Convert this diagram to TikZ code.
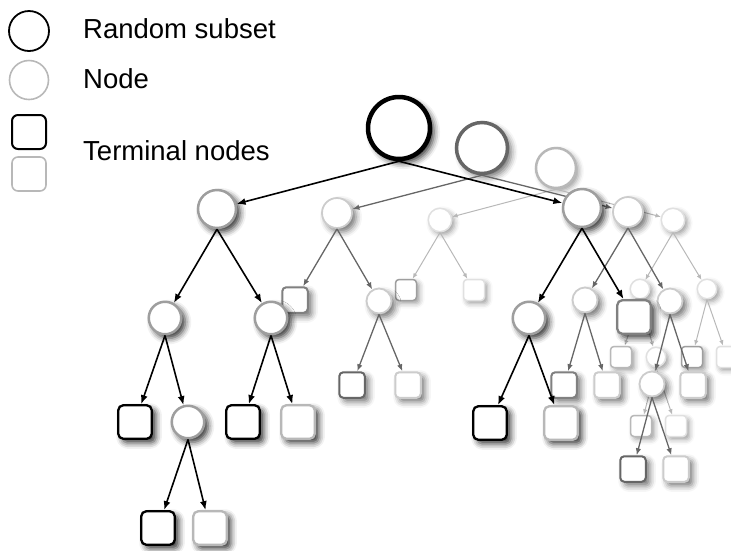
\documentclass[tikz,border=0pt]{standalone}
\usepackage{fontspec}
\setmainfont{Liberation Sans}
\usetikzlibrary{arrows.meta,shadows.blur}

\definecolor{gA}{gray}{0.40}
\definecolor{gB}{gray}{0.50}
\definecolor{gC}{gray}{0.62}
\definecolor{gD}{gray}{0.72}
\definecolor{gE}{gray}{0.80}
\definecolor{gF}{gray}{0.88}

\tikzset{
  % shadows for the three trees
  dkshadow/.style={blur shadow={shadow xshift=4pt, shadow yshift=-4pt, shadow blur radius=6pt, shadow opacity=80}},
  mdshadow/.style={blur shadow={shadow xshift=4pt, shadow yshift=-4pt, shadow blur radius=6pt, shadow opacity=55}},
  ltshadow/.style={blur shadow={shadow xshift=3pt, shadow yshift=-3pt, shadow blur radius=5pt, shadow opacity=38}},
  % node shapes
  rnd/.style={circle, fill=white, inner sep=0pt},
  box/.style={rectangle, fill=white, inner sep=0pt},
  % front tree
  dkroot/.style={rnd, draw=black, line width=4.5pt, minimum size=62pt, dkshadow},
  dkcA/.style={rnd, draw=gC, line width=2.5pt, minimum size=38pt, dkshadow},
  dkcB/.style={rnd, draw=gC, line width=2.5pt, minimum size=32.5pt, dkshadow},
  dkbox/.style={box, line width=2.3pt, minimum size=33.5pt, rounded corners=5pt, dkshadow},
  % middle tree
  mdroot/.style={rnd, draw=gA, line width=3.5pt, minimum size=51pt, mdshadow},
  mdcA/.style={rnd, draw=gE, line width=1.8pt, minimum size=30pt, mdshadow},
  mdcB/.style={rnd, draw=gE, line width=1.8pt, minimum size=25pt, mdshadow},
  mdbox/.style={box, line width=2pt, minimum size=25.5pt, rounded corners=4pt, mdshadow},
  % back tree
  ltroot/.style={rnd, draw=gD, line width=2.5pt, minimum size=40pt, ltshadow},
  ltcA/.style={rnd, draw=gF, line width=1.5pt, minimum size=23.5pt, ltshadow},
  ltcB/.style={rnd, draw=gF, line width=1.5pt, minimum size=19.5pt, ltshadow},
  ltbox/.style={box, line width=1.5pt, minimum size=21pt, rounded corners=3.5pt, ltshadow},
  % connectors
  dkarrow/.style={draw=black, line width=1.6pt, -{Latex[length=9pt,width=7pt]}},
  mdarrow/.style={draw=gA, line width=1.3pt, -{Latex[length=7pt,width=5.5pt]}},
  ltarrow/.style={draw=gD, line width=1pt, -{Latex[length=5.5pt,width=4.5pt]}},
  legtext/.style={anchor=base west, inner sep=0pt, font=\fontsize{27.5}{30}\selectfont},
}

\begin{document}
\begin{tikzpicture}[x=1pt, y=-1pt]
\useasboundingbox (0,0) rectangle (731,550);

% ---------- legend ----------
\node[circle, draw=black, line width=1.8pt, minimum size=40pt, inner sep=0pt] (kA) at (29,31) {};
\node[circle, draw=gD, line width=1.6pt, minimum size=39pt, inner sep=0pt] (kB) at (29,80) {};
\node[rectangle, draw=black, line width=2pt, minimum size=34pt, rounded corners=6pt, inner sep=0pt] (kC) at (29,132) {};
\node[rectangle, draw=gD, line width=1.6pt, minimum size=34pt, rounded corners=6pt, inner sep=0pt] (kD) at (29,174) {};
\node[legtext] (tA) at (83,38) {Random subset};
\node[legtext] (tB) at (83,88) {Node};
\node[legtext] (tC) at (83,160) {Terminal nodes};

% ---------- back tree ----------
\node[ltroot] (lr) at (556,168) {};
\node[ltcA] (l1) at (440,220) {};
\node[ltcA] (l2) at (673,220) {};
\node[ltbox, draw=gC] (l11) at (406,290) {};
\node[ltbox, draw=gF] (l12) at (474,290) {};
\node[ltcB] (l21) at (640,289) {};
\node[ltcB] (l22) at (707,289) {};
\node[ltbox, draw=gD] (l211) at (621,357) {};
\node[ltcB] (l212) at (656,357) {};
\node[ltbox, draw=gC] (l221) at (692,357) {};
\node[ltbox, draw=gF] (l222) at (727,357) {};
\node[ltbox, draw=gD] (l2121) at (641,426) {};
\node[ltbox, draw=gF] (l2122) at (676,426) {};

\draw[ltarrow] (lr.south) -- (l1);
\draw[ltarrow] (lr.south) -- (l2);
\draw[ltarrow] (l1.south) -- (l11);
\draw[ltarrow] (l1.south) -- (l12);
\draw[ltarrow] (l2.south) -- (l21);
\draw[ltarrow] (l2.south) -- (l22);
\draw[ltarrow] (l21.south) -- (l211);
\draw[ltarrow] (l21.south) -- (l212);
\draw[ltarrow] (l22.south) -- (l221);
\draw[ltarrow] (l22.south) -- (l222);
\draw[ltarrow] (l212.south) -- (l2121);
\draw[ltarrow] (l212.south) -- (l2122);

% ---------- middle tree ----------
\node[mdroot] (mr) at (482,148) {};
\node[mdcA] (m1) at (337,213) {};
\node[mdcA] (m2) at (628,212) {};
\node[mdbox, draw=gB] (m11) at (295,300) {};
\node[mdcB] (m12) at (379,301) {};
\node[mdbox, draw=gA] (m121) at (352,385) {};
\node[mdbox, draw=gE] (m122) at (408,385) {};
\node[mdcB] (m21) at (585,300) {};
\node[mdcB] (m22) at (670,301) {};
\node[mdbox, draw=gB] (m211) at (564,385) {};
\node[mdbox, draw=gE] (m212) at (607,385) {};
\node[mdcB] (m221) at (652,384) {};
\node[mdbox, draw=gE] (m222) at (693,385) {};
\node[mdbox, draw=gA] (m2211) at (633,469) {};
\node[mdbox, draw=gE] (m2212) at (676,469) {};

\draw[mdarrow] (mr.south) -- (m1);
\draw[mdarrow] (mr.south) -- (m2);
\draw[mdarrow] (m1.south) -- (m11);
\draw[mdarrow] (m1.south) -- (m12);
\draw[mdarrow] (m12.south) -- (m121);
\draw[mdarrow] (m12.south) -- (m122);
\draw[mdarrow] (m2.south) -- (m21);
\draw[mdarrow] (m2.south) -- (m22);
\draw[mdarrow] (m21.south) -- (m211);
\draw[mdarrow] (m21.south) -- (m212);
\draw[mdarrow] (m22.south) -- (m221);
\draw[mdarrow] (m22.south) -- (m222);
\draw[mdarrow] (m221.south) -- (m2211);
\draw[mdarrow] (m221.south) -- (m2212);

% ---------- front tree ----------
\node[dkroot] (dr) at (399,128) {};
\node[dkcA] (d1) at (217,209) {};
\node[dkcA] (d2) at (582,208) {};
\node[dkcB] (d11) at (165,318) {};
\node[dkcB] (d12) at (271,318) {};
\node[dkbox, draw=black] (d111) at (135,422) {};
\node[dkcB] (d112) at (188,422) {};
\node[dkbox, draw=black] (d1121) at (158,528) {};
\node[dkbox, draw=gD] (d1122) at (210,528) {};
\node[dkbox, draw=black] (d121) at (243,422) {};
\node[dkbox, draw=gD] (d122) at (298,422) {};
\node[dkcB] (d21) at (529,318) {};
\node[dkbox, draw=gB] (d22) at (634,317) {};
\node[dkbox, draw=black] (d211) at (490,423) {};
\node[dkbox, draw=gD] (d212) at (561,423) {};

\draw[dkarrow] (dr.south) -- (d1);
\draw[dkarrow] (dr.south) -- (d2);
\draw[dkarrow] (d1.south) -- (d11);
\draw[dkarrow] (d1.south) -- (d12);
\draw[dkarrow] (d11.south) -- (d111);
\draw[dkarrow] (d11.south) -- (d112);
\draw[dkarrow] (d112.south) -- (d1121);
\draw[dkarrow] (d112.south) -- (d1122);
\draw[dkarrow] (d12.south) -- (d121);
\draw[dkarrow] (d12.south) -- (d122);
\draw[dkarrow] (d2.south) -- (d21);
\draw[dkarrow] (d2.south) -- (d22);
\draw[dkarrow] (d21.south) -- (d211);
\draw[dkarrow] (d21.south) -- (d212);
\end{tikzpicture}
\end{document}
